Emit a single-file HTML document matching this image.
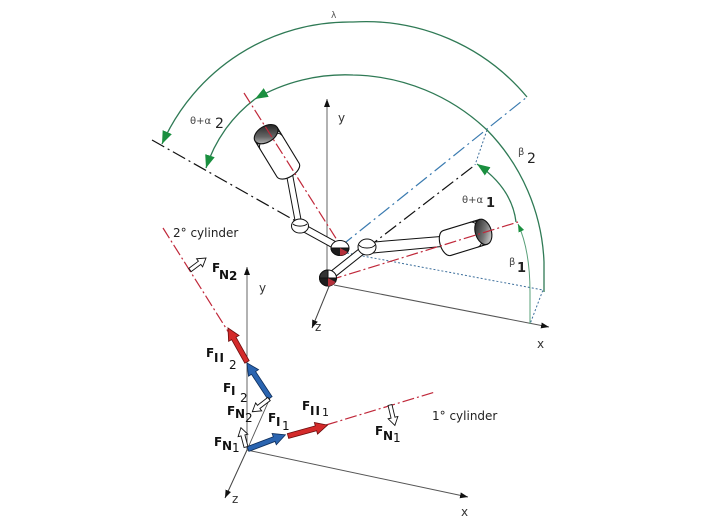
<!DOCTYPE html>
<html><head><meta charset="utf-8"><style>
html,body{margin:0;padding:0;background:#fff;}
svg{display:block;}
text{font-family:"DejaVu Sans","Liberation Sans",sans-serif;}
</style></head><body>
<svg width="704" height="528" viewBox="0 0 704 528" xmlns="http://www.w3.org/2000/svg">
<defs>
<marker id="ax" viewBox="0 0 8 6" refX="8" refY="3" markerWidth="8" markerHeight="6" orient="auto" markerUnits="userSpaceOnUse"><path d="M0,0 L8,3 L0,6 Z" fill="#111"/></marker>
<marker id="ga" viewBox="0 0 13 10" refX="13" refY="5" markerWidth="13" markerHeight="10" orient="auto" markerUnits="userSpaceOnUse"><path d="M0,0 L13,5 L0,10 Z" fill="#1a8f3f"/></marker>
<marker id="gs" viewBox="0 0 8 6" refX="8" refY="3" markerWidth="8" markerHeight="6" orient="auto" markerUnits="userSpaceOnUse"><path d="M0,0 L8,3 L0,6 Z" fill="#1a8f3f"/></marker>
<linearGradient id="cap1" x1="0" y1="0" x2="1" y2="1"><stop offset="0" stop-color="#111"/><stop offset="0.55" stop-color="#777"/><stop offset="1" stop-color="#f2f2f2"/></linearGradient>
<linearGradient id="cap2" x1="1" y1="1" x2="0" y2="0"><stop offset="0" stop-color="#111"/><stop offset="0.6" stop-color="#666"/><stop offset="1" stop-color="#ddd"/></linearGradient>
</defs>

<!-- ===== TOP DIAGRAM ===== -->
<!-- axes -->
<line x1="327" y1="272" x2="327" y2="99" stroke="#666" stroke-width="1" marker-end="url(#ax)"/>
<line x1="330" y1="284" x2="312" y2="328" stroke="#444" stroke-width="1" marker-end="url(#ax)"/>
<line x1="334" y1="285" x2="549" y2="327" stroke="#555" stroke-width="1" marker-end="url(#ax)"/>
<text x="338" y="122" font-size="12" fill="#333">y</text>
<text x="315" y="331" font-size="12" fill="#333">z</text>
<text x="537" y="348" font-size="12" fill="#333">x</text>

<!-- dotted blue -->
<polyline points="347,253 543,290 530,324" fill="none" stroke="#3d6f9c" stroke-width="1" stroke-dasharray="2 2"/>
<line x1="487" y1="130" x2="475" y2="165" stroke="#3d6f9c" stroke-width="1" stroke-dasharray="2 2"/>

<!-- dash-dot lines (under links) -->
<line x1="152" y1="140" x2="340" y2="246" stroke="#111" stroke-width="1.2" stroke-dasharray="14 4 2 4"/>
<line x1="328" y1="278" x2="475" y2="165" stroke="#111" stroke-width="1.2" stroke-dasharray="14 4 2 4"/>
<line x1="341" y1="246" x2="527" y2="97" stroke="#3b7bb0" stroke-width="1.2" stroke-dasharray="14 4 2 4"/>

<!-- green arcs -->
<path d="M527,97 A210,210 0 0 0 353,22 A205,205 0 0 0 162,144" fill="none" stroke="#2f7a55" stroke-width="1.3" marker-end="url(#ga)"/>
<path d="M544,292 L544,262 A200,200 0 0 0 487,130 A200,200 0 0 0 353,75 A180,180 0 0 0 255,99" fill="none" stroke="#2f7a55" stroke-width="1.3" marker-end="url(#ga)"/>
<path d="M255,99 A140,140 0 0 0 206,168" fill="none" stroke="#2f7a55" stroke-width="1.3" marker-end="url(#ga)"/>
<path d="M530,324 L530,292 Q530,250 518,224" fill="none" stroke="#5aa07a" stroke-width="1" marker-end="url(#gs)"/>
<path d="M516,222 Q512,188 477,164" fill="none" stroke="#2f7a55" stroke-width="1.3" marker-end="url(#ga)"/>

<!-- links -->
<polygon points="298.3,229.1 338.3,251.1 341.7,244.9 301.7,222.9" fill="#fff"/>
<line x1="298.3" y1="229.1" x2="338.3" y2="251.1" stroke="#111" stroke-width="1"/>
<line x1="301.7" y1="222.9" x2="341.7" y2="244.9" stroke="#111" stroke-width="1"/>
<polygon points="330.2,280.7 369.2,249.7 364.8,244.3 325.8,275.3" fill="#fff"/>
<line x1="330.2" y1="280.7" x2="369.2" y2="249.7" stroke="#111" stroke-width="1"/>
<line x1="325.8" y1="275.3" x2="364.8" y2="244.3" stroke="#111" stroke-width="1"/>
<polygon points="292,171.5 301,219.5 295,220.5 286,172.5" fill="#fff"/>
<line x1="292" y1="171.5" x2="301" y2="219.5" stroke="#111" stroke-width="1"/>
<line x1="286" y1="172.5" x2="295" y2="220.5" stroke="#111" stroke-width="1"/>
<polygon points="374,242 447,236 447,246 373,253" fill="#fff"/>
<line x1="374" y1="242" x2="447" y2="236" stroke="#111" stroke-width="1"/>
<line x1="373" y1="253" x2="447" y2="246" stroke="#111" stroke-width="1"/>

<!-- cylinder 1 -->
<g transform="translate(447,243) rotate(-17)">
<path d="M0,-13 L38,-13 L38,13 L0,13 A7,13 0 0 1 0,-13 Z" fill="#fff" stroke="#111" stroke-width="1.1"/>
<path d="M28,-13 A8,13 0 0 1 28,13" fill="none" stroke="#111" stroke-width="1"/>
<path d="M31,-13 A8,13 0 0 1 31,13" fill="none" stroke="#111" stroke-width="1"/>
<ellipse cx="38" cy="0" rx="8" ry="13" fill="url(#cap1)" stroke="#111" stroke-width="1.1"/>
</g>
<!-- cylinder 2 -->
<g transform="translate(288,170) rotate(-121.4)">
<path d="M0,-13 L42,-13 L42,13 L0,13 A7,13 0 0 1 0,-13 Z" fill="#fff" stroke="#111" stroke-width="1.1"/>
<path d="M32,-13 A8,13 0 0 1 32,13" fill="none" stroke="#111" stroke-width="1"/>
<path d="M35,-13 A8,13 0 0 1 35,13" fill="none" stroke="#111" stroke-width="1"/>
<ellipse cx="42" cy="0" rx="8" ry="13" fill="url(#cap2)" stroke="#111" stroke-width="1.1"/>
</g>

<!-- red dash-dot axes -->
<line x1="244" y1="93" x2="337" y2="240" stroke="#c0283a" stroke-width="1.2" stroke-dasharray="12 3 2 3"/>
<line x1="330" y1="280" x2="518" y2="222" stroke="#c0283a" stroke-width="1.2" stroke-dasharray="12 3 2 3"/>

<!-- joints -->
<g stroke="#111" stroke-width="1">
<ellipse cx="300" cy="226" rx="8.5" ry="7" fill="#fff"/>
<path d="M293,224 A8,4 0 0 0 307,224" fill="none"/>
<ellipse cx="367" cy="247" rx="9" ry="8" fill="#fff"/>
<path d="M359,245 A8.5,4.5 0 0 0 375,245" fill="none"/>
<ellipse cx="340" cy="248" rx="9" ry="7.5" fill="#fff"/>
<path d="M331,248 A9,7.5 0 0 0 349,248 Z" fill="#1d1d1d"/>
<path d="M340,248 L340,255.5 A9,7.5 0 0 0 347.5,252 Z" fill="#b3303a" stroke="none"/>
<ellipse cx="328" cy="278" rx="8.5" ry="8" fill="#fff"/>
<path d="M319.5,278 A8.5,8 0 0 0 336.5,278 Z" fill="#1d1d1d"/>
<path d="M328,278 L328,286 A8.5,8 0 0 0 335.5,282 Z" fill="#b3303a" stroke="none"/>
<path d="M319.5,278 A8.5,8 0 0 1 328,270 L328,278 Z" fill="#333"/>
</g>

<!-- top labels -->
<text x="331" y="18" font-size="9" fill="#555" font-family="Liberation Serif, serif">λ</text>
<text x="190" y="124" font-size="10" fill="#444" font-family="Liberation Serif, serif">θ+α</text>
<text x="215" y="128" font-size="14" fill="#222">2</text>
<text x="462" y="203" font-size="10" fill="#444" font-family="Liberation Serif, serif">θ+α</text>
<text x="486" y="207" font-size="13" font-weight="bold" fill="#222">1</text>
<text x="518" y="155" font-size="10" fill="#444" font-family="Liberation Serif, serif">β</text>
<text x="527" y="163" font-size="14" fill="#222">2</text>
<text x="509" y="265" font-size="10" fill="#444" font-family="Liberation Serif, serif">β</text>
<text x="517" y="272" font-size="13" font-weight="bold" fill="#222">1</text>

<!-- ===== BOTTOM DIAGRAM ===== -->
<line x1="247" y1="450" x2="247" y2="267" stroke="#666" stroke-width="1" marker-end="url(#ax)"/>
<line x1="247" y1="450" x2="225" y2="498" stroke="#444" stroke-width="1" marker-end="url(#ax)"/>
<line x1="247" y1="450" x2="468" y2="497" stroke="#555" stroke-width="1" marker-end="url(#ax)"/>
<line x1="247" y1="450" x2="270" y2="398" stroke="#555" stroke-width="0.9"/>
<text x="259" y="292" font-size="12" fill="#333">y</text>
<text x="232" y="503" font-size="12" fill="#333">z</text>
<text x="461" y="516" font-size="12" fill="#333">x</text>

<line x1="163" y1="228" x2="229" y2="333" stroke="#c0283a" stroke-width="1.2" stroke-dasharray="12 3 2 3"/>
<line x1="326" y1="425" x2="435" y2="392" stroke="#c0283a" stroke-width="1.2" stroke-dasharray="12 3 2 3"/>

<text x="173" y="237" font-size="12" fill="#222">2° cylinder</text>
<text x="432" y="420" font-size="12" fill="#222">1° cylinder</text>

<!-- block arrows -->
<g stroke-width="0.8" stroke-linejoin="miter">
<g transform="translate(270,398) rotate(-123.3)"><polygon points="0,-2.5 30,-2.5 30,-6 42,0 30,6 30,2.5 0,2.5" fill="#2a64b0" stroke="#0d2d5a"/></g>
<g transform="translate(247,362) rotate(-119.2)"><polygon points="0,-2.5 27,-2.5 27,-6 39,0 27,6 27,2.5 0,2.5" fill="#d42a2a" stroke="#6a0d0d"/></g>
<g transform="translate(248,449) rotate(-20.7)"><polygon points="0,-2.5 28,-2.5 28,-6 40,0 28,6 28,2.5 0,2.5" fill="#2a64b0" stroke="#0d2d5a"/></g>
<g transform="translate(288,436) rotate(-15.4)"><polygon points="0,-2.5 29,-2.5 29,-6 41,0 29,6 29,2.5 0,2.5" fill="#d42a2a" stroke="#6a0d0d"/></g>
</g>
<g stroke="#111" stroke-width="0.9" fill="#fff">
<g transform="translate(246,447) rotate(-104.7)"><polygon points="0,-2 12,-2 12,-5 20,0 12,5 12,2 0,2"/></g>
<g transform="translate(269,399) rotate(142.6)"><polygon points="0,-2 13,-2 13,-5 21,0 13,5 13,2 0,2"/></g>
<g transform="translate(190,270) rotate(-36.9)"><polygon points="0,-2 12,-2 12,-5 20,0 12,5 12,2 0,2"/></g>
<g transform="translate(390,405) rotate(76.6)"><polygon points="0,-2 13,-2 13,-5 21,0 13,5 13,2 0,2"/></g>
</g>

<!-- force labels -->
<g font-size="12" fill="#111">
<text font-weight="bold"><tspan x="212" y="272">F</tspan><tspan x="219" y="279">N</tspan><tspan x="229" y="280">2</tspan></text>
<text><tspan x="206" y="357" font-weight="bold">F</tspan><tspan x="214" y="362" font-weight="bold" letter-spacing="1">II</tspan><tspan x="229" y="369">2</tspan></text>
<text><tspan x="223" y="392" font-weight="bold">F</tspan><tspan x="231" y="395" font-weight="bold">I</tspan><tspan x="240" y="402">2</tspan></text>
<text><tspan x="227" y="415" font-weight="bold">F</tspan><tspan x="235" y="418" font-weight="bold">N</tspan><tspan x="245" y="422">2</tspan></text>
<text><tspan x="214" y="446" font-weight="bold">F</tspan><tspan x="222" y="450" font-weight="bold">N</tspan><tspan x="232" y="452">1</tspan></text>
<text><tspan x="268" y="422" font-weight="bold">F</tspan><tspan x="276" y="426" font-weight="bold">I</tspan><tspan x="282" y="430">1</tspan></text>
<text><tspan x="302" y="410" font-weight="bold">F</tspan><tspan x="310" y="415" font-weight="bold" letter-spacing="1">II</tspan><tspan x="322" y="416" font-size="11">1</tspan></text>
<text><tspan x="375" y="435" font-weight="bold">F</tspan><tspan x="383" y="440" font-weight="bold">N</tspan><tspan x="393" y="442">1</tspan></text>
</g>
</svg>
</body></html>
